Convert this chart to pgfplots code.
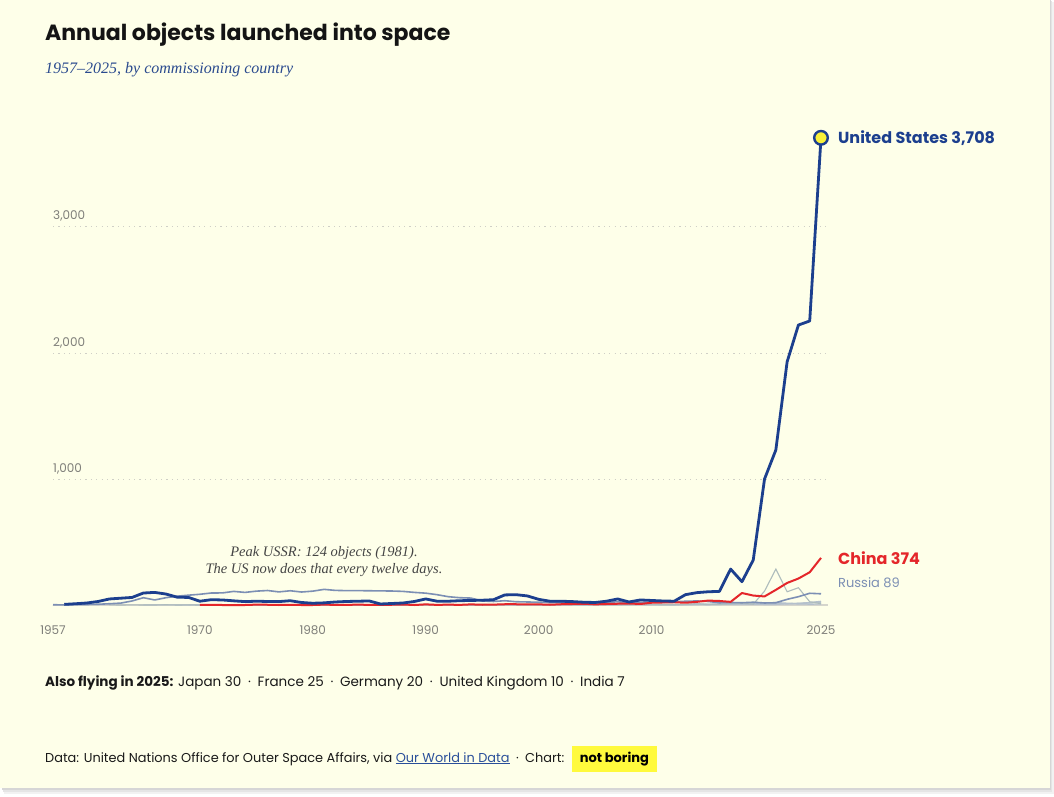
\documentclass[border=0pt]{standalone}
\usepackage{pgfplots}
\pgfplotsset{compat=1.18}
\usepackage{fontspec}
\setmainfont{Poppins}
\newfontfamily\seriffont{Liberation Serif}
\definecolor{bg}{HTML}{FEFFE9}
\definecolor{uscol}{HTML}{1C3F8E}
\definecolor{cncol}{HTML}{E4262A}
\definecolor{rucol}{HTML}{7C8FB4}
\definecolor{othcol}{HTML}{B4C0CC}
\definecolor{ukcol}{HTML}{AEBCBC}
\definecolor{tickgray}{HTML}{7E7E79}
\definecolor{gridcol}{HTML}{CFCFC6}
\definecolor{basecol}{HTML}{D5D5CC}
\definecolor{yel}{HTML}{F8F03A}
\definecolor{boxyel}{HTML}{FFFA3C}
\definecolor{subblue}{HTML}{2A4A8E}
\definecolor{linkblue}{HTML}{2A4F9A}
\definecolor{annot}{HTML}{454545}

\pgfplotstableread{
year val
1958 5
1959 10
1960 16
1961 28
1962 48
1963 54
1964 60
1965 95
1966 100
1967 87
1968 62
1969 60
1970 30
1971 42
1972 40
1973 33
1974 27
1975 30
1976 28
1977 27
1978 34
1979 20
1980 14
1981 17
1982 24
1983 28
1984 30
1985 32
1986 8
1987 12
1988 16
1989 28
1990 48
1991 30
1992 30
1993 34
1994 36
1995 38
1996 42
1997 80
1998 82
1999 72
2000 45
2001 30
2002 30
2003 27
2004 22
2005 20
2006 30
2007 48
2008 24
2009 40
2010 36
2011 32
2012 30
2013 82
2014 98
2015 105
2016 108
2017 285
2018 185
2019 357
2020 1000
2021 1230
2022 1930
2023 2222
2024 2254
2025 3708
}\usdata

\pgfplotstableread{
year val
1957 2
1958 1
1959 3
1960 4
1961 6
1962 10
1963 15
1964 32
1965 58
1966 40
1967 58
1968 70
1969 78
1970 85
1971 95
1972 96
1973 108
1974 100
1975 110
1976 115
1977 104
1978 113
1979 103
1980 110
1981 124
1982 116
1983 114
1984 114
1985 113
1986 112
1987 111
1988 108
1989 100
1990 94
1991 82
1992 66
1993 58
1994 55
1995 32
1996 28
1997 34
1998 26
1999 24
2000 22
2001 20
2002 18
2003 15
2004 14
2005 18
2006 22
2007 25
2008 20
2009 20
2010 22
2011 26
2012 25
2013 30
2014 32
2015 28
2016 18
2017 20
2018 18
2019 22
2020 16
2021 18
2022 45
2023 66
2024 93
2025 89
}\rudata

\pgfplotstableread{
year val
1970 1
1971 1
1972 0
1973 0
1974 0
1975 3
1976 2
1977 0
1978 1
1979 0
1980 0
1981 3
1982 1
1983 1
1984 3
1985 1
1986 2
1987 2
1988 4
1989 0
1990 5
1991 1
1992 3
1993 1
1994 5
1995 2
1996 3
1997 6
1998 6
1999 5
2000 5
2001 2
2002 6
2003 8
2004 10
2005 5
2006 8
2007 10
2008 12
2009 8
2010 18
2011 20
2012 22
2013 18
2014 25
2015 35
2016 32
2017 25
2018 95
2019 75
2020 68
2021 120
2022 175
2023 210
2024 260
2025 374
}\cndata

\tikzset{gridl/.style={gridcol, line width=1pt, dash pattern=on 1.2pt off 4.2pt},
  ylab/.style={anchor=base west, inner sep=0pt, text=tickgray, font=\fontsize{12}{14}\selectfont, yshift=7pt}}

\begin{document}
\begin{tikzpicture}
\fill[white] (0,0) rectangle (1054pt,796pt);
\fill[black!5] (4pt,2pt) rectangle (1054pt,794pt);
\fill[black!10] (3pt,4pt) rectangle (1052pt,795pt);
\fill[black!16] (2pt,6pt) rectangle (1051pt,796pt);
\fill[bg] (0pt,8pt) rectangle (1050pt,796pt);

\begin{axis}[
  at={(53pt,191pt)}, anchor=south west,
  scale only axis, width=768pt, height=504pt,
  xmin=1957, xmax=2025, ymin=0, ymax=4000,
  clip=false,
  axis line style={draw=none},
  ytick=\empty,
  xtick={1957,1970,1980,1990,2000,2010,2025},
  major tick length=0pt,
  tick style={draw=none},
  xticklabel style={font=\fontsize{12}{14}\selectfont, text=tickgray, anchor=base, yshift=-29.5pt},
  /pgf/number format/1000 sep={},
  /pgf/number format/assume math mode=true,
]
\draw[gridl] (axis cs:1957,1000) -- (axis cs:2025.6,1000);
\draw[gridl] (axis cs:1957,2000) -- (axis cs:2025.6,2000);
\draw[gridl] (axis cs:1957,3000) -- (axis cs:2025.6,3000);
\draw[basecol, line width=1.3pt] (axis cs:1957,0) -- (axis cs:2025.6,0);

% other countries
\addplot[othcol, line width=1.1pt] coordinates {
(1970,1)(1971,2)(1972,1)(1973,0)(1974,1)(1975,2)(1976,2)(1977,3)(1978,3)(1979,2)
(1980,2)(1981,3)(1982,2)(1983,3)(1984,3)(1985,2)(1986,3)(1987,3)(1988,2)(1989,2)
(1990,5)(1991,3)(1992,2)(1993,1)(1994,3)(1995,2)(1996,3)(1997,4)(1998,2)(1999,1)
(2000,1)(2001,2)(2002,4)(2003,4)(2004,0)(2005,3)(2006,6)(2007,3)(2008,4)(2009,6)
(2010,5)(2011,3)(2012,5)(2013,3)(2014,12)(2015,5)(2016,8)(2017,10)(2018,14)(2019,10)
(2020,10)(2021,20)(2022,15)(2023,12)(2024,20)(2025,30)};
\addplot[othcol, line width=1.1pt] coordinates {
(1965,1)(1966,1)(1967,2)(1968,0)(1969,0)(1970,2)(1971,1)(1972,0)(1973,0)(1974,1)
(1975,3)(1976,0)(1977,1)(1978,1)(1979,1)(1980,1)(1981,2)(1982,1)(1983,1)(1984,2)
(1985,2)(1986,3)(1987,2)(1988,3)(1989,3)(1990,4)(1991,3)(1992,3)(1993,3)(1994,4)
(1995,4)(1996,3)(1997,5)(1998,4)(1999,5)(2000,4)(2001,4)(2002,4)(2003,3)(2004,5)
(2005,4)(2006,3)(2007,4)(2008,3)(2009,5)(2010,3)(2011,6)(2012,4)(2013,3)(2014,5)
(2015,4)(2016,6)(2017,8)(2018,8)(2019,7)(2020,8)(2021,12)(2022,10)(2023,14)(2024,18)(2025,25)};
\addplot[othcol, line width=1.1pt] coordinates {
(1969,1)(1970,0)(1971,0)(1972,1)(1973,0)(1974,2)(1975,1)(1976,1)(1977,1)(1978,1)
(1979,0)(1980,0)(1981,0)(1982,0)(1983,1)(1984,0)(1985,1)(1986,0)(1987,1)(1988,1)
(1989,1)(1990,3)(1991,1)(1992,2)(1993,1)(1994,1)(1995,3)(1996,1)(1997,2)(1998,2)
(1999,3)(2000,4)(2001,3)(2002,2)(2003,3)(2004,2)(2005,3)(2006,4)(2007,5)(2008,6)
(2009,3)(2010,3)(2011,3)(2012,2)(2013,3)(2014,4)(2015,2)(2016,4)(2017,6)(2018,10)
(2019,5)(2020,8)(2021,12)(2022,10)(2023,12)(2024,15)(2025,20)};
\addplot[othcol, line width=1.1pt] coordinates {
(1975,1)(1976,0)(1977,0)(1978,0)(1979,1)(1980,1)(1981,2)(1982,1)(1983,2)(1984,1)
(1985,0)(1986,0)(1987,1)(1988,2)(1989,0)(1990,1)(1991,1)(1992,2)(1993,1)(1994,1)
(1995,1)(1996,2)(1997,2)(1998,0)(1999,1)(2000,0)(2001,2)(2002,2)(2003,2)(2004,1)
(2005,3)(2006,1)(2007,3)(2008,4)(2009,3)(2010,4)(2011,4)(2012,3)(2013,4)(2014,4)
(2015,6)(2016,10)(2017,12)(2018,8)(2019,8)(2020,4)(2021,4)(2022,10)(2023,8)(2024,6)(2025,7)};
\addplot[ukcol, line width=1.1pt] coordinates {
(1962,1)(1963,0)(1964,1)(1965,0)(1966,0)(1967,2)(1968,0)(1969,1)(1970,0)(1971,2)
(1972,1)(1973,0)(1974,1)(1975,1)(1976,0)(1977,0)(1978,1)(1979,1)(1980,0)(1981,1)
(1982,1)(1983,0)(1984,1)(1985,0)(1986,1)(1987,1)(1988,1)(1989,2)(1990,1)(1991,2)
(1992,1)(1993,2)(1994,1)(1995,1)(1996,2)(1997,2)(1998,3)(1999,2)(2000,3)(2001,2)
(2002,3)(2003,2)(2004,2)(2005,3)(2006,2)(2007,2)(2008,3)(2009,5)(2010,3)(2011,2)
(2012,2)(2013,5)(2014,8)(2015,5)(2016,5)(2017,10)(2018,15)(2019,6)(2020,110)(2021,285)
(2022,105)(2023,137)(2024,26)(2025,10)};

\addplot[rucol, line width=1.6pt, line join=round] table[x=year, y=val] {\rudata};
\addplot[cncol, line width=2pt, line join=round] table[x=year, y=val] {\cndata};
\addplot[uscol, line width=2.8pt, line join=round] table[x=year, y=val] {\usdata};
\addplot[only marks, mark=*, mark size=6.8pt, mark options={fill=yel, draw=uscol, line width=2.4pt}] coordinates {(2025,3708)};

\node[ylab] at (axis cs:1957,1000) {1,000};
\node[ylab] at (axis cs:1957,2000) {2,000};
\node[ylab] at (axis cs:1957,3000) {3,000};
\node[anchor=west, inner sep=0pt, text=uscol, font=\fontsize{16}{19}\selectfont\bfseries, xshift=17pt] at (axis cs:2025,3708) {United States 3,708};
\node[anchor=west, inner sep=0pt, text=cncol, font=\fontsize{16}{19}\selectfont\bfseries, xshift=17pt] at (axis cs:2025,374) {China 374};
\node[anchor=west, inner sep=0pt, text=rucol, font=\fontsize{13}{16}\selectfont, xshift=17pt, yshift=11pt] at (axis cs:2025,89) {Russia 89};
\end{axis}

% titles
\node[anchor=base west, inner sep=0pt, text=black!92, font=\fontsize{22}{26}\selectfont\bfseries] at (45pt,755.3pt) {Annual objects launched into space};
\node[anchor=base west, inner sep=0pt, text=subblue, font=\seriffont\itshape\fontsize{16}{19}\selectfont] at (45pt,722.7pt) {1957–2025, by commissioning country};

% annotation
\node[anchor=base, inner sep=0pt, text=annot, font=\seriffont\itshape\fontsize{14.5}{17}\selectfont] at (324pt,239.3pt) {Peak USSR: 124 objects (1981).};
\node[anchor=base, inner sep=0pt, text=annot, font=\seriffont\itshape\fontsize{14.5}{17}\selectfont] at (324pt,222.7pt) {The US now does that every twelve days.};

% also flying
\node[anchor=base west, inner sep=0pt, text=black!90, font=\fontsize{13.5}{16}\selectfont] at (45pt,110pt) {\textbf{Also flying in 2025:} Japan 30\enspace·\enspace France 25\enspace·\enspace Germany 20\enspace·\enspace United Kingdom 10\enspace·\enspace India 7};

% footer
\node[anchor=base west, inner sep=0pt, text=black!90, font=\fontsize{12.9}{15}\selectfont] (foot) at (45pt,34pt) {Data: United Nations Office for Outer Space Affairs, via \textcolor{linkblue}{\underline{Our World in Data}}\enspace·\enspace Chart:};
\node[anchor=base west, fill=boxyel, inner xsep=8pt, inner ysep=6pt, text=black, font=\fontsize{13}{16}\selectfont\bfseries] at ([xshift=7pt]foot.base east) {not boring};
\end{tikzpicture}
\end{document}
